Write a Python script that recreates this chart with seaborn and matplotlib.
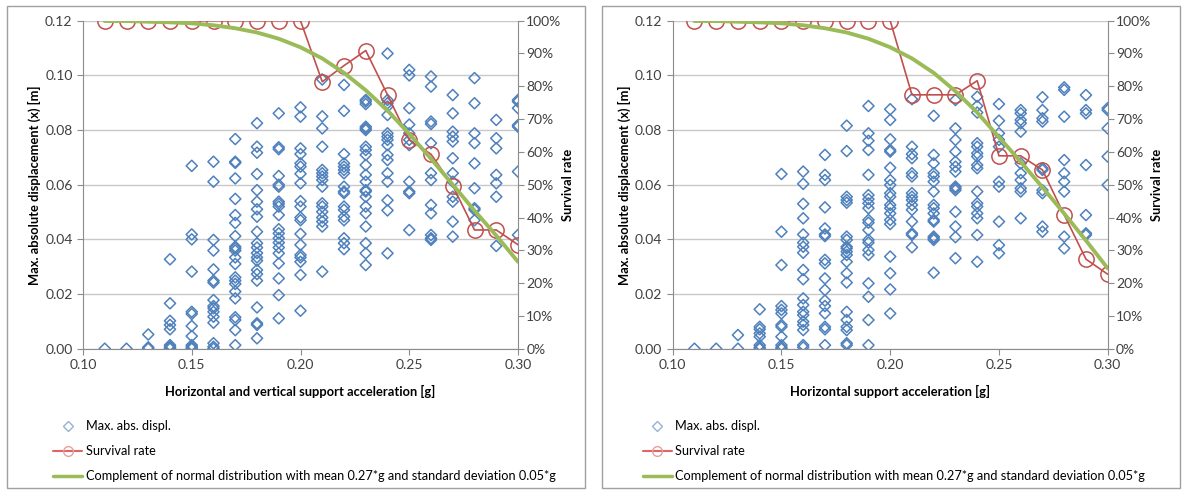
import numpy as np
import pandas as pd
import matplotlib
matplotlib.use("Agg")
import matplotlib.pyplot as plt
from matplotlib.lines import Line2D
from matplotlib.patches import Rectangle
from matplotlib.ticker import PercentFormatter, MultipleLocator
import seaborn as sns

sns.set_style("white")
plt.rcParams['font.family'] = ['Lato', 'DejaVu Sans']

# support acceleration levels [g]
accel = [0.11, 0.12, 0.13, 0.14, 0.15, 0.16, 0.17, 0.18, 0.19, 0.20,
         0.21, 0.22, 0.23, 0.24, 0.25, 0.26, 0.27, 0.28, 0.29, 0.30]

# max. abs. displacement per acceleration level, horizontal + vertical
disp_left = [
    [0.0],
    [0.0],
    [0.0052, 0.0005, 0.0],
    [0.0327, 0.0166, 0.0102, 0.0087, 0.0071, 0.0013, 0.0007, 0.0003, 0.0],
    [0.0669, 0.0418, 0.0400, 0.0282, 0.0135, 0.0127, 0.0083, 0.0046, 0.0013, 0.0007, 0.0002, 0.0],
    [0.0684, 0.0611, 0.0398, 0.0359, 0.0290, 0.0249, 0.0242, 0.0178, 0.0156, 0.0148, 0.0135,
     0.0117, 0.0095, 0.0020, 0.0007, 0.0],
    [0.0767, 0.0684, 0.0680, 0.0623, 0.0548, 0.0489, 0.0460, 0.0412, 0.0373, 0.0367, 0.0359,
     0.0334, 0.0310, 0.0261, 0.0249, 0.0237, 0.0209, 0.0184, 0.0115, 0.0105, 0.0068, 0.0013],
    [0.0825, 0.0739, 0.0717, 0.0639, 0.0580, 0.0538, 0.0510, 0.0483, 0.0428, 0.0386, 0.0370,
     0.0350, 0.0334, 0.0322, 0.0288, 0.0273, 0.0249, 0.0151, 0.0093, 0.0087, 0.0038],
    [0.0861, 0.0737, 0.0730, 0.0632, 0.0600, 0.0593, 0.0538, 0.0530, 0.0520, 0.0489, 0.0437,
     0.0422, 0.0404, 0.0388, 0.0370, 0.0349, 0.0312, 0.0257, 0.0196, 0.0111],
    [0.0883, 0.0849, 0.0733, 0.0712, 0.0678, 0.0666, 0.0640, 0.0605, 0.0540, 0.0520, 0.0480,
     0.0470, 0.0420, 0.0380, 0.0343, 0.0334, 0.0318, 0.0270, 0.0139],
    [0.0985, 0.0850, 0.0806, 0.0739, 0.0654, 0.0642, 0.0630, 0.0617, 0.0593, 0.0532, 0.0520,
     0.0501, 0.0480, 0.0465, 0.0447, 0.0282],
    [0.0965, 0.0870, 0.0712, 0.0678, 0.0666, 0.0654, 0.0642, 0.0593, 0.0575, 0.0569, 0.0520,
     0.0508, 0.0483, 0.0470, 0.0404, 0.0386, 0.0364],
    [0.0910, 0.0904, 0.0895, 0.0812, 0.0806, 0.0800, 0.0739, 0.0727, 0.0709, 0.0672, 0.0636,
     0.0611, 0.0580, 0.0575, 0.0556, 0.0520, 0.0495, 0.0447, 0.0386, 0.0349, 0.0306],
    [0.1080, 0.0910, 0.0898, 0.0886, 0.0855, 0.0788, 0.0776, 0.0764, 0.0745, 0.0709, 0.0690,
     0.0642, 0.0611, 0.0543, 0.0506, 0.0349],
    [0.1020, 0.1000, 0.0880, 0.0820, 0.0788, 0.0764, 0.0745, 0.0611, 0.0575, 0.0569, 0.0434],
    [0.0996, 0.0959, 0.0831, 0.0822, 0.0752, 0.0642, 0.0617, 0.0526, 0.0495, 0.0416, 0.0404, 0.0398],
    [0.0928, 0.0861, 0.0794, 0.0776, 0.0758, 0.0697, 0.0642, 0.0611, 0.0556, 0.0538, 0.0465, 0.0410],
    [0.0990, 0.0898, 0.0788, 0.0752, 0.0678, 0.0587, 0.0514, 0.0508, 0.0470],
    [0.0837, 0.0770, 0.0733, 0.0636, 0.0605, 0.0556, 0.0376],
    [0.0910, 0.0904, 0.0880, 0.0818, 0.0812, 0.0648, 0.0416],
]

# max. abs. displacement per acceleration level, horizontal only
disp_right = [
    [0.0],
    [0.0],
    [0.0050, 0.0],
    [0.0144, 0.0080, 0.0071, 0.0056, 0.0044, 0.0013, 0.0005, 0.0],
    [0.0639, 0.0428, 0.0306, 0.0156, 0.0142, 0.0129, 0.0087, 0.0080, 0.0044, 0.0013, 0.0005, 0.0],
    [0.0648, 0.0603, 0.0530, 0.0477, 0.0418, 0.0388, 0.0373, 0.0351, 0.0288, 0.0254, 0.0184,
     0.0160, 0.0135, 0.0123, 0.0099, 0.0087, 0.0068, 0.0013, 0.0005],
    [0.0709, 0.0636, 0.0617, 0.0517, 0.0440, 0.0418, 0.0412, 0.0325, 0.0312, 0.0257, 0.0215,
     0.0176, 0.0156, 0.0129, 0.0080, 0.0071, 0.0013],
    [0.0816, 0.0723, 0.0556, 0.0544, 0.0534, 0.0410, 0.0398, 0.0373, 0.0367, 0.0355, 0.0343,
     0.0318, 0.0276, 0.0242, 0.0135, 0.0105, 0.0080, 0.0068, 0.0020, 0.0013],
    [0.0888, 0.0788, 0.0761, 0.0727, 0.0636, 0.0562, 0.0547, 0.0532, 0.0514, 0.0471, 0.0461,
     0.0434, 0.0398, 0.0388, 0.0361, 0.0343, 0.0239, 0.0190, 0.0105, 0.0013],
    [0.0876, 0.0837, 0.0766, 0.0727, 0.0721, 0.0662, 0.0617, 0.0599, 0.0569, 0.0556, 0.0526,
     0.0514, 0.0495, 0.0471, 0.0456, 0.0337, 0.0276, 0.0217, 0.0129],
    [0.0913, 0.0739, 0.0712, 0.0697, 0.0642, 0.0630, 0.0569, 0.0556, 0.0544, 0.0526, 0.0508,
     0.0465, 0.0422, 0.0416, 0.0371],
    [0.0852, 0.0709, 0.0678, 0.0642, 0.0630, 0.0611, 0.0575, 0.0526, 0.0514, 0.0495, 0.0471,
     0.0465, 0.0410, 0.0404, 0.0398, 0.0278],
    [0.0910, 0.0806, 0.0764, 0.0721, 0.0684, 0.0666, 0.0648, 0.0593, 0.0587, 0.0580, 0.0501,
     0.0447, 0.0408, 0.0331],
    [0.0922, 0.0888, 0.0864, 0.0752, 0.0739, 0.0715, 0.0703, 0.0672, 0.0660, 0.0575, 0.0532,
     0.0520, 0.0495, 0.0477, 0.0416, 0.0318],
    [0.0895, 0.0834, 0.0788, 0.0764, 0.0739, 0.0611, 0.0593, 0.0465, 0.0379, 0.0349],
    [0.0873, 0.0861, 0.0837, 0.0825, 0.0794, 0.0678, 0.0642, 0.0617, 0.0587, 0.0575, 0.0477],
    [0.0920, 0.0873, 0.0843, 0.0831, 0.0660, 0.0654, 0.0580, 0.0569, 0.0447, 0.0428],
    [0.0956, 0.0947, 0.0849, 0.0690, 0.0642, 0.0611, 0.0575, 0.0410, 0.0367],
    [0.0928, 0.0873, 0.0861, 0.0672, 0.0489, 0.0422, 0.0416],
    [0.0880, 0.0873, 0.0806, 0.0703, 0.0599],
]

# survival rate
surv_left = [1.0, 1.0, 1.0, 1.0, 1.0, 1.0, 1.0, 1.0, 1.0, 1.0,
             0.814, 0.863, 0.909, 0.774, 0.637, 0.593, 0.497, 0.362, 0.362, 0.317]
surv_right = [1.0, 1.0, 1.0, 1.0, 1.0, 1.0, 1.0, 1.0, 1.0, 1.0,
              0.774, 0.774, 0.774, 0.817, 0.588, 0.588, 0.545, 0.408, 0.273, 0.227]

# complement of normal distribution (mean 0.27 g, sd 0.05 g)
norm_left = [0.999, 0.999, 0.997, 0.995, 0.992, 0.986, 0.977, 0.964, 0.945, 0.919,
             0.885, 0.841, 0.788, 0.726, 0.655, 0.579, 0.500, 0.421, 0.345, 0.265]
norm_right = [0.999, 0.999, 0.997, 0.995, 0.992, 0.986, 0.977, 0.964, 0.945, 0.919,
              0.885, 0.841, 0.785, 0.720, 0.645, 0.570, 0.492, 0.412, 0.330, 0.245]

xlabel_left = "Horizontal and vertical support acceleration [g]"
xlabel_right = "Horizontal support acceleration [g]"
label_disp = "Max. abs. displ."
label_surv = "Survival rate"
label_norm = "Complement of normal distribution with mean 0.27*g and standard deviation 0.05*g"

BLUE = "#4F81BD"
RED = "#C0504D"
GREEN = "#9BBB59"
GRID = "#C8C8C8"
AXIS = "#8C8C8C"
TXT = "#404040"

W, H = 1186, 490
fig = plt.figure(figsize=(W / 100, H / 100), dpi=100)


def panel(left_px, disp, surv, norm, xlabel, box_px):
    ax = fig.add_axes([left_px / W, 1 - 348.7 / H, 435 / W, 328 / H])
    df = pd.DataFrame({
        "accel": [a for a, ys in zip(accel, disp) for _ in ys],
        "disp": [y for ys in disp for y in ys],
    })
    sns.scatterplot(data=df, x="accel", y="disp", ax=ax, marker="D", s=32,
                    facecolor="none", edgecolor=BLUE, linewidth=1.1, zorder=3)
    ax.set_xlim(0.10, 0.30)
    ax.set_ylim(0, 0.12)
    ax.xaxis.set_major_locator(MultipleLocator(0.05))
    ax.yaxis.set_major_locator(MultipleLocator(0.02))
    ax.xaxis.set_major_formatter(plt.FormatStrFormatter("%.2f"))
    ax.yaxis.set_major_formatter(plt.FormatStrFormatter("%.2f"))
    ax.grid(axis="y", color=GRID, lw=1)
    ax.grid(axis="x", visible=False)
    for s in ["top", "right"]:
        ax.spines[s].set_visible(False)
    for s in ["left", "bottom"]:
        ax.spines[s].set_color(AXIS)
    ax.tick_params(axis="both", direction="out", length=4, color=AXIS,
                   labelsize=10, labelcolor=TXT, left=True, bottom=True)
    ax.set_xlabel(xlabel, fontsize=9.3, fontweight="bold", color="black", labelpad=10)
    ax.set_ylabel("Max. absolute displacement (x) [m]", fontsize=9.3,
                  fontweight="bold", color="black", labelpad=3)

    ax2 = ax.twinx()
    line_df = pd.DataFrame({"accel": accel, "surv": surv, "norm": norm})
    sns.lineplot(data=line_df, x="accel", y="surv", ax=ax2, color=RED, lw=1.2,
                 marker="o", markersize=11, markerfacecolor="none",
                 markeredgecolor=RED, markeredgewidth=1.1, zorder=4)
    sns.lineplot(data=line_df, x="accel", y="norm", ax=ax2, color=GREEN, lw=2.8,
                 zorder=5)
    ax2.set_xlim(0.10, 0.30)
    ax2.set_ylim(0, 1)
    ax2.yaxis.set_major_locator(MultipleLocator(0.1))
    ax2.yaxis.set_major_formatter(PercentFormatter(1.0, decimals=0))
    for s in ["top", "left", "bottom"]:
        ax2.spines[s].set_visible(False)
    ax2.spines["right"].set_color(AXIS)
    ax2.tick_params(axis="y", direction="out", length=4, color=AXIS,
                    labelsize=10, labelcolor=TXT, right=True, pad=2)
    ax2.set_xlabel("")
    ax2.set_ylabel("Survival rate", fontsize=9.3, fontweight="bold",
                   color="black", labelpad=0)

    handles = [
        Line2D([], [], ls="none", marker="D", markersize=5, markerfacecolor="none",
               markeredgecolor="#95B3D7", markeredgewidth=1),
        Line2D([], [], color="#E06666", lw=1.5, marker="o", markersize=7,
               markerfacecolor="none", markeredgecolor="#E6A0A0"),
        Line2D([], [], color=GREEN, lw=2.5),
    ]
    ax.legend(handles, [label_disp, label_surv, label_norm], loc="upper left",
              bbox_to_anchor=((left_px - 30) / W, 1 - 420 / H),
              bbox_transform=fig.transFigure, frameon=False, fontsize=9.2,
              borderpad=0, borderaxespad=0, handlelength=2.3,
              handletextpad=0.25, labelspacing=1.02, labelcolor="black")

    x0, x1 = box_px
    fig.patches.append(Rectangle((x0 / W, 2 / H), (x1 - x0) / W, 482 / H,
                                 transform=fig.transFigure, fill=False,
                                 edgecolor="#A0A0A0", lw=1))


panel(83, disp_left, surv_left, norm_left, xlabel_left, (7, 585))
panel(672.7, disp_right, surv_right, norm_right, xlabel_right, (602, 1180))

fig.savefig("out.png", dpi=100)
